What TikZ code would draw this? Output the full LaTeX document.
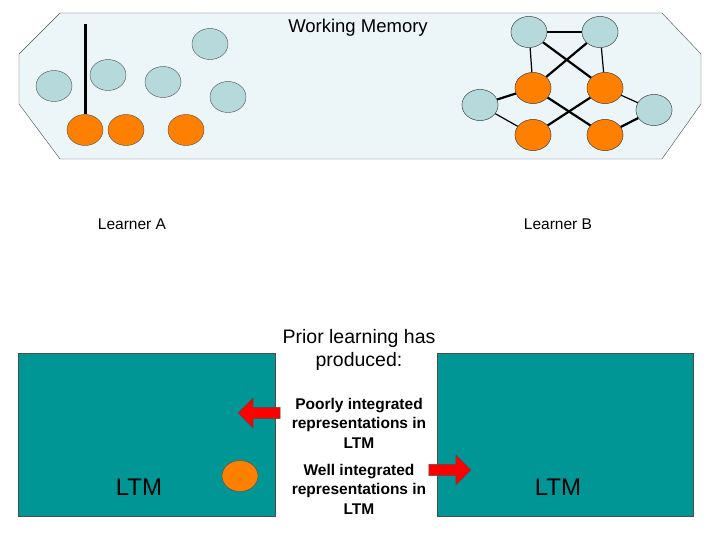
\documentclass[tikz,border=0pt]{standalone}
\usepackage{fontspec}
\setmainfont{Liberation Sans}
\usetikzlibrary{shapes.geometric,shapes.arrows}
\definecolor{lb}{RGB}{182,217,220}
\definecolor{og}{RGB}{255,128,0}
\definecolor{tl}{RGB}{0,150,150}
\definecolor{wm}{RGB}{236,246,248}
\begin{document}
\begin{tikzpicture}[x=1pt,y=-1pt,
 b/.style={ellipse,draw=black!70,fill=lb,minimum width=36,minimum height=31,inner sep=0},
 o/.style={ellipse,draw=black!70,fill=og,minimum width=36,minimum height=31,inner sep=0},
 thin/.style={line width=1.2pt},
 thick/.style={line width=2.2pt},
 lbl/.style={font=\fontsize{15.5}{18}\selectfont},
 bl/.style={font=\bfseries\fontsize{15.5}{19.5}\selectfont,align=center},
 ra/.style={single arrow,draw=black!70,fill=red,minimum height=42,minimum width=30,single arrow head extend=7,inner sep=4}]
\useasboundingbox (0,0) rectangle (720,540);
\draw[fill=wm,draw=black!70] (60,13) -- (662,13) -- (701,54) -- (701,104) -- (662,159) -- (60,159) -- (19,104) -- (19,54) -- cycle;
\node[font=\fontsize{18.5}{20}\selectfont] (wmt) at (358,28) {Working Memory};
% left cluster
\node[b] (a1) at (54,86) {};
\node[b] (a2) at (108,75) {};
\node[b] (a3) at (163,82) {};
\node[b] (a4) at (210,44) {};
\node[b] (a5) at (228,97) {};
\node[o] (p1) at (85,130) {};
\node[o] (p2) at (126,130) {};
\node[o] (p3) at (186,130) {};
\coordinate (top) at (85,24);
\draw[line width=3pt] (top) -- (p1.north);
% right cluster
\node[b] (b1) at (529,32) {};
\node[b] (b2) at (600,32) {};
\node[b] (b3) at (480,105) {};
\node[b] (b4) at (654,110) {};
\node[o] (q1) at (533,88) {};
\node[o] (q2) at (605,88) {};
\node[o] (q3) at (533,135) {};
\node[o] (q4) at (605,135) {};
\draw[thin] (b1) -- (b2);
\draw[thin] (b1) -- (q1);
\draw[thin] (b2) -- (q2);
\draw[thick] (b1) -- (q2);
\draw[thick] (b2) -- (q1);
\draw[thick] (b3) -- (q1);
\draw[thin] (b3) -- (q3);
\draw[thick] (q1) -- (q4);
\draw[thick] (q2) -- (q3);
\draw[thin] (q2) -- (b4);
\draw[thick] (b4) -- (q4);
\foreach \n in {b1,b2,b3,b4} \node[b] at (\n) {};
\foreach \n in {q1,q2,q3,q4} \node[o] at (\n) {};
\node[lbl] (la) at (132,224) {Learner A};
\node[lbl] (lbb) at (558,224) {Learner B};
\node[draw=black!70,fill=tl,minimum width=257,minimum height=163,inner sep=0] (L1) at (146.5,434.5) {};
\node[draw=black!70,fill=tl,minimum width=256,minimum height=163,inner sep=0] (L2) at (565,434.5) {};
\node[font=\fontsize{24}{26}\selectfont] (t1) at (139,487) {LTM};
\node[font=\fontsize{24}{26}\selectfont] (t2) at (558,487) {LTM};
\node[o] (oc) at (240,476) {};
\node[font=\fontsize{19.5}{23}\selectfont,align=center] (pr) at (359,350) {Prior learning has\\produced:};
\node[bl] (poor) at (359,423) {Poorly integrated\\representations in\\LTM};
\node[bl] (well) at (359,489) {Well integrated\\representations in\\LTM};
\node[ra,shape border rotate=180] (ar1) at (262,413) {};
\node[ra] (ar2) at (447,470) {};
\end{tikzpicture}
\end{document}
